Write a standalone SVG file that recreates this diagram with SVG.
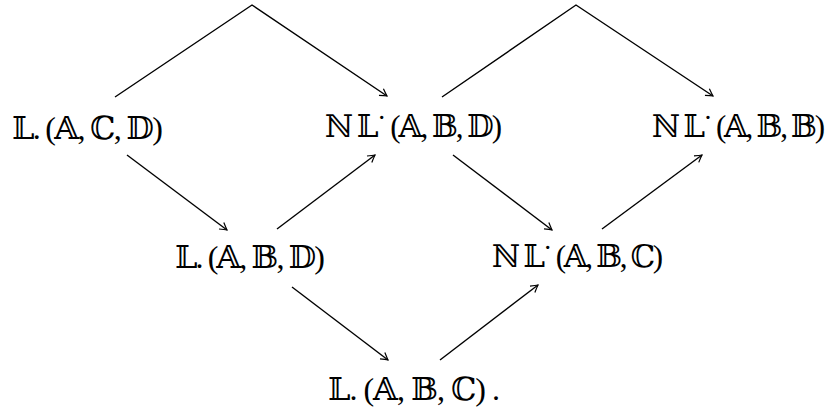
<svg xmlns="http://www.w3.org/2000/svg" width="828" height="414" viewBox="0 0 828 414">
<defs>
<style>
.t{font-family:"Liberation Serif","DejaVu Serif","DejaVu Sans",serif;font-size:32px;fill:#000}
.n{font-size:31px}
.e{fill:none;stroke:#000;stroke-width:1.4;marker-end:url(#ah)}
</style>
<marker id="ah" markerUnits="userSpaceOnUse" viewBox="-10 -6 12 12" refX="0" refY="0" markerWidth="12" markerHeight="12" orient="auto">
<path d="M-7,-4 Q-2,-1 0,0 Q-2,1 -7,4" fill="none" stroke="#000" stroke-width="1.2"/>
</marker>
</defs>
<rect width="828" height="414" fill="#fff"/>
<g id="connectors">
<path class="e" d="M115,97 L252,5 L387,96"/>
<path class="e" d="M442,97 L576,5 L713,96"/>
<path class="e" d="M127,155 L227,230"/>
<path class="e" d="M277,229 L375,155"/>
<path class="e" d="M453,155 L552,230"/>
<path class="e" d="M602,229 L702,155"/>
<path class="e" d="M292,287 L388,360"/>
<path class="e" d="M440,360 L538,285"/>
</g>
<g id="n1"><text class="t" x="12" y="139" textLength="151">𝕃. (𝔸, ℂ, 𝔻)</text></g>
<g id="n2"><text class="t n" x="325" y="137" textLength="177">ℕ 𝕃˙ (𝔸, 𝔹, 𝔻)</text></g>
<g id="n3"><text class="t n" x="652" y="137" textLength="173">ℕ 𝕃˙ (𝔸, 𝔹, 𝔹)</text></g>
<g id="n4"><text class="t" x="175" y="268" textLength="150">𝕃. (𝔸, 𝔹, 𝔻)</text></g>
<g id="n5"><text class="t n" x="492" y="267" textLength="171">ℕ 𝕃˙ (𝔸, 𝔹, ℂ)</text></g>
<g id="n6"><text class="t" x="328" y="400" textLength="172">𝕃. (𝔸, 𝔹, ℂ) .</text></g>
</svg>
